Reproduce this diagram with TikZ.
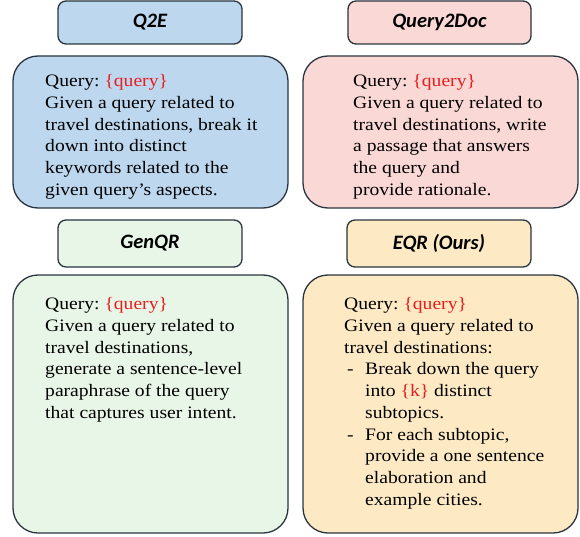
\documentclass[tikz,border=0pt]{standalone}
\usepackage{fontspec}
\setmainfont{Liberation Serif}[FakeStretch=1.12]
\newfontfamily\titlefont{Carlito}
\definecolor{bluefill}{RGB}{189,215,238}
\definecolor{pinkfill}{RGB}{250,216,213}
\definecolor{greenfill}{RGB}{232,246,232}
\definecolor{yellowfill}{RGB}{253,234,197}
\definecolor{edgecol}{RGB}{42,52,62}
\definecolor{qred}{RGB}{232,30,30}
\newcommand{\qv}[1]{\textcolor{qred}{#1}}
\newcommand{\itm}{\makebox[21pt][l]{\hspace{3pt}-}}
\newcommand{\ind}{\hspace*{21pt}}
\frenchspacing
\begin{document}
\begin{tikzpicture}[x=1pt,y=-1pt,
  titlebox/.style={draw=edgecol, line width=1.3pt, rounded corners=8pt, inner sep=0pt,
    font=\titlefont\bfseries\itshape\fontsize{20.5}{24}\selectfont},
  bodybox/.style={draw=edgecol, line width=1.3pt, rounded corners=25pt, inner sep=0pt,
    minimum width=275pt},
  bodytext/.style={anchor=north west, inner sep=0pt, align=left,
    font=\frenchspacing\fontsize{17.5}{21.7}\selectfont}]
\useasboundingbox (0,0) rectangle (580,537);
% top row
\node[titlebox, fill=bluefill, minimum width=184pt, minimum height=43pt] (q2et) at (150,22.5) {Q2E};
\node[titlebox, fill=pinkfill, minimum width=183pt, minimum height=43pt] (q2dt) at (439.5,22.5) {Query2Doc};
\node[bodybox, fill=bluefill, minimum height=152pt] (q2eb) at (150.5,132) {};
\node[bodybox, fill=pinkfill, minimum height=152pt] (q2db) at (440.5,132) {};
\node[bodytext] (q2ex) at (45,74.5) {Query: \qv{\{query\}}\\Given a query related to\\travel destinations, break it\\down into distinct\\keywords related to the\\given query’s aspects.};
\node[bodytext] (q2dx) at (353,74.5) {Query: \qv{\{query\}}\\Given a query related to\\travel destinations, write\\a passage that answers\\the query and\\provide rationale.};
% bottom row
\node[titlebox, fill=greenfill, minimum width=184pt, minimum height=47pt] (gent) at (150,243.5) {GenQR};
\node[titlebox, fill=yellowfill, minimum width=184pt, minimum height=47pt] (eqrt) at (439,243.5) {EQR (Ours)};
\node[bodybox, fill=greenfill, minimum height=258pt] (genb) at (150.5,404) {};
\node[bodybox, fill=yellowfill, minimum height=258pt] (eqrb) at (440.5,404) {};
\node[bodytext] (genx) at (45,297.5) {Query: \qv{\{query\}}\\Given a query related to\\travel destinations,\\generate a sentence-level\\paraphrase of the query\\that captures user intent.};
\node[bodytext] (eqrx) at (344,297.5) {Query: \qv{\{query\}}\\Given a query related to\\travel destinations:\\\itm Break down the query\\\ind into \qv{\{k\}} distinct\\\ind subtopics.\\\itm For each subtopic,\\\ind provide a one sentence\\\ind elaboration and\\\ind example cities.};
\end{tikzpicture}
\end{document}
